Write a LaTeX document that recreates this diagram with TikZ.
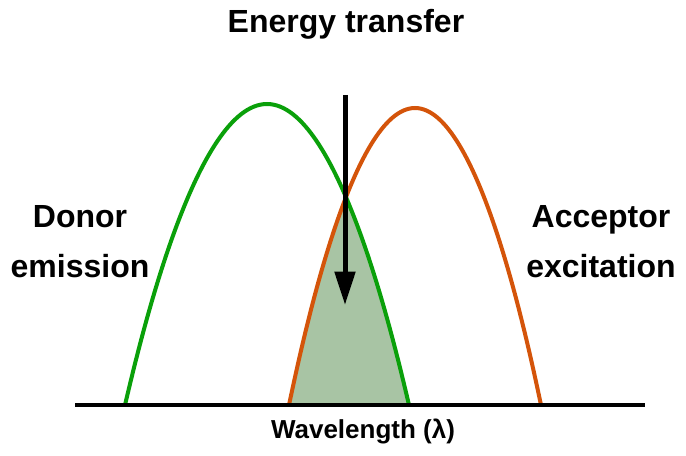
\documentclass[tikz,border=0pt]{standalone}
\usepackage{fontspec}
\setmainfont{Liberation Sans}
\usepackage{tikz}
\usetikzlibrary{arrows.meta, positioning}
\definecolor{donorgreen}{RGB}{10, 160, 10}
\definecolor{accorange}{RGB}{212, 84, 10}
\definecolor{overlapfill}{RGB}{168, 196, 164}

\begin{document}
\begin{tikzpicture}[
  x=0.75pt, y=-0.75pt,
  spectrum/.style={line width=3pt},
  axisline/.style={line width=3pt},
  biglabel/.style={font=\fontsize{24}{37.5}\selectfont\bfseries, align=center, inner sep=0pt},
  transfer/.style={-{Triangle[width=15pt, length=25pt]}, line width=3.75pt},
]
  \useasboundingbox (0,0) rectangle (686,456);

  % Overlap region
  \begin{scope}
    \clip (289,405) parabola bend (415,108) (541,405) -- cycle;
    \fill[overlapfill] (125,405) parabola bend (267,104) (409,405) -- cycle;
  \end{scope}

  % Spectra
  \draw[spectrum, donorgreen] (125,405) parabola bend (267,104) (409,405);
  \draw[spectrum, accorange] (289,405) parabola bend (415,108) (541,405);

  % Axis
  \coordinate (axisL) at (75,405);
  \coordinate (axisR) at (645,405);
  \draw[axisline] (axisL) -- (axisR);
  \node[font=\fontsize{19.5}{22}\selectfont\bfseries, anchor=base] (wavelen) at (363,438) {Wavelength (λ)};

  % Energy transfer arrow
  \node[biglabel, anchor=base] (title) at (346,33) {Energy transfer};
  \coordinate (arrtop) at (345,95);
  \coordinate (arrtip) at (345,305);
  \draw[transfer] (arrtop) -- (arrtip);

  % Side labels (base = last line)
  \node[biglabel, anchor=base] (donor) at (80,277) {Donor\\emission};
  \node[biglabel, anchor=base] (acceptor) at (601,277) {Acceptor\\excitation};

\end{tikzpicture}
\end{document}
